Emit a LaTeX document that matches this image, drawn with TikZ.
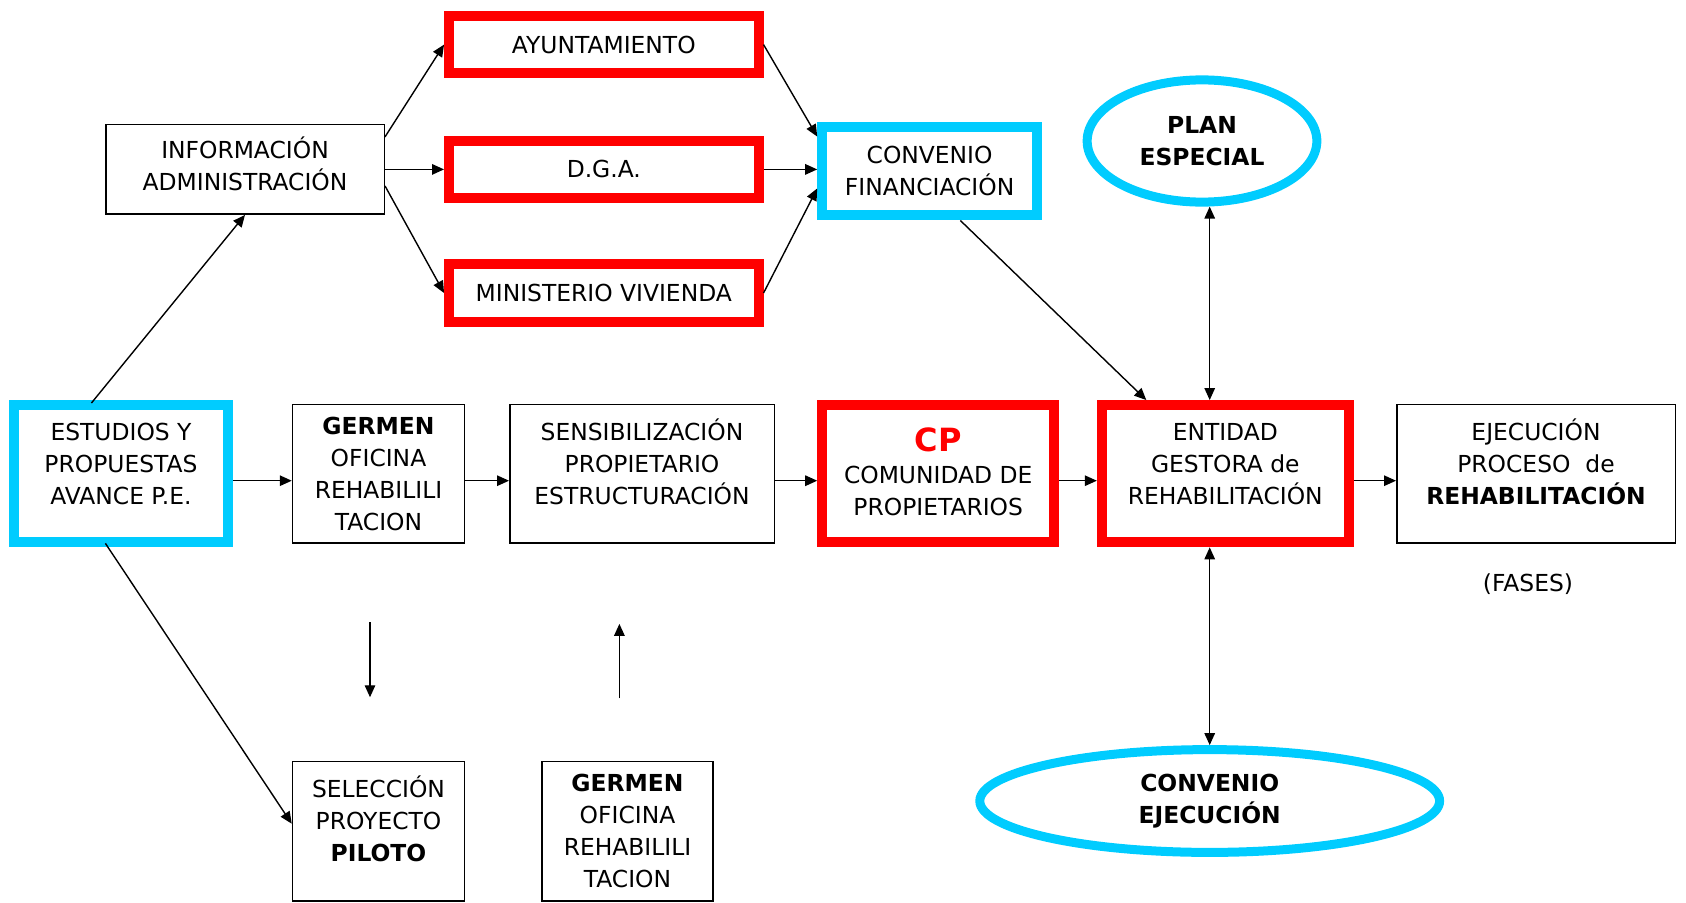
\documentclass[tikz,border=0pt]{standalone}
\usepackage{fontspec}
\setmainfont{DejaVu Sans}
\usetikzlibrary{shapes.geometric,arrows.meta,calc}
\definecolor{boxred}{RGB}{255,0,0}
\definecolor{boxcyan}{RGB}{0,204,255}
\begin{document}
\begin{tikzpicture}[x=1pt,y=-1pt,
  every node/.style={font=\fontsize{23.4}{32}\selectfont, align=center, inner sep=0pt},
  thinbox/.style={draw=black, line width=1.5pt, rectangle},
  redbox/.style={draw=boxred, line width=10pt, rectangle},
  cyanbox/.style={draw=boxcyan, line width=10pt, rectangle},
  cyanell/.style={draw=boxcyan, line width=9pt, ellipse},
  conn/.style={line width=1.4pt, -{Triangle[length=12pt,width=10.5pt]}},
  biconn/.style={line width=1.4pt, {Triangle[length=12pt,width=10.5pt]}-{Triangle[length=12pt,width=10.5pt]}},
]
\useasboundingbox (0,0) rectangle (1686,902);

% top cluster
\node[thinbox, minimum width=278.5pt, minimum height=89.5pt] (info) at (245,169.4)
  {INFORMACIÓN\\ADMINISTRACIÓN\\[-21pt]\mbox{}};
\node[redbox, minimum width=309.5pt, minimum height=57.7pt] (ayunt) at (603.8,44.6) {AYUNTAMIENTO};
\node[redbox, minimum width=309.5pt, minimum height=57.7pt] (dga) at (603.8,169.4) {D.G.A.};
\node[redbox, minimum width=309.5pt, minimum height=57.7pt] (mini) at (603.8,293) {MINISTERIO VIVIENDA};
\node[cyanbox, minimum width=214.8pt, minimum height=88.9pt] (conv) at (929.6,171) {CONVENIO\\FINANCIACIÓN};
\node[cyanell, minimum width=229.7pt, minimum height=122.2pt] (plan) at (1202,141)
  {\textbf{PLAN}\\\textbf{ESPECIAL}};

% main row
\node[cyanbox, minimum width=214.7pt, minimum height=137.3pt] (estudios) at (121,473.7)
  {ESTUDIOS Y\\PROPUESTAS\\AVANCE P.E.\\[-13pt]\mbox{}};
\node[thinbox, minimum width=172pt, minimum height=138.8pt] (germen) at (378.5,473.7)
  {\textbf{GERMEN}\\OFICINA\\REHABILILI\\TACION};
\node[thinbox, minimum width=264.5pt, minimum height=138.8pt] (sens) at (642,473.7)
  {SENSIBILIZACIÓN\\PROPIETARIO\\ESTRUCTURACIÓN\\[-7pt]\mbox{}};
\node[redbox, minimum width=232pt, minimum height=137.3pt] (cp) at (938.2,473.7)
  {{\fontsize{32}{32}\selectfont\bfseries\color{boxred}CP}\\COMUNIDAD DE\\PROPIETARIOS\\[-28pt]\mbox{}};
\node[redbox, minimum width=247pt, minimum height=137.3pt] (entidad) at (1225.3,473.7)
  {ENTIDAD\\GESTORA de\\REHABILITACIÓN\\[-13pt]\mbox{}};
\node[thinbox, minimum width=278.5pt, minimum height=138.8pt] (ejec) at (1536,473.7)
  {EJECUCIÓN\\PROCESO\ \ de\\\textbf{REHABILITACIÓN}\\[-7pt]\mbox{}};
\node (fases) at (1528,584) {(FASES)};

% bottom
\node[thinbox, minimum width=172pt, minimum height=139.8pt] (selec) at (378.5,831.2)
  {SELECCIÓN\\PROYECTO\\\textbf{PILOTO}\\[-6pt]\mbox{}};
\node[thinbox, minimum width=171pt, minimum height=139.8pt] (germentwo) at (627.5,831.2)
  {\textbf{GERMEN}\\OFICINA\\REHABILILI\\TACION};
\node[cyanell, minimum width=459.8pt, minimum height=102.8pt] (conveje) at (1209.7,801)
  {\textbf{CONVENIO}\\\textbf{EJECUCIÓN}};

% connectors
\draw[conn] ([xshift=-29.6pt,yshift=-3pt]estudios.north) -- (info.south);
\draw[conn] ([xshift=-15.6pt,yshift=4pt]estudios.south) -- ([yshift=7.5pt]selec.west);
\draw[conn] ([yshift=-13pt]info.north east) -- (ayunt.west);
\draw[conn] (info.east) -- (dga.west);
\draw[conn] ([yshift=29pt]info.south east) -- (mini.west);
\draw[conn] (ayunt.east) -- ([yshift=-15pt]conv.north west);
\draw[conn] (dga.east) -- (dga.east -| conv.west);
\draw[conn] (mini.east) -- ([yshift=32pt]conv.south west);
\draw[conn] ([xshift=30.7pt]conv.south) -- ([xshift=-79pt]entidad.north);
\draw[biconn] (conveje.north |- plan.south) -- (conveje.north |- entidad.north);
\draw[biconn] (conveje.north |- entidad.south) -- (conveje.north);

\draw[conn] ([yshift=-7pt]estudios.east) -- ([yshift=-7pt]germen.west);
\draw[conn] ([yshift=-7pt]germen.east) -- ([yshift=-7pt]sens.west);
\draw[conn] ([yshift=-7pt]sens.east) -- ([yshift=-7pt]cp.west);
\draw[conn] ([yshift=-7pt]cp.east) -- ([yshift=-7pt]entidad.west);
\draw[conn] ([yshift=-7pt]entidad.east) -- ([yshift=-7pt]ejec.west);

\draw[conn] ([xshift=-8.5pt,yshift=-78.5pt]germen.south) -- ([xshift=-8.5pt,yshift=63.3pt]selec.north);
\draw[conn] ([xshift=-8.1pt,yshift=62.3pt]germentwo.north) -- ([xshift=-22.6pt,yshift=-80pt]sens.south);
\end{tikzpicture}
\end{document}
